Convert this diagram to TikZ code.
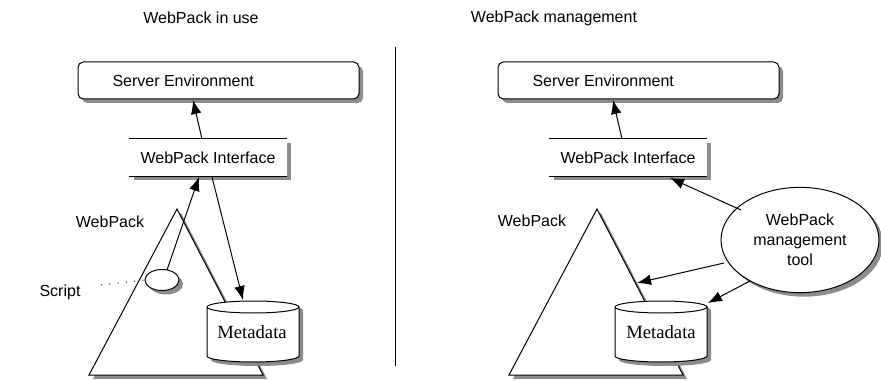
\documentclass[tikz,border=0pt]{standalone}
\usepackage{fontspec}
\setmainfont{Liberation Sans}
\newfontfamily\serifface{Liberation Serif}
\usetikzlibrary{shapes.geometric,arrows.meta,shadows}
\definecolor{shadowgray}{gray}{0.55}
\begin{document}
\begin{tikzpicture}[x=0.75pt,y=-0.75pt, line width=0.75pt,
  sans/.style={font=\fontsize{12}{15}\selectfont},
  serif/.style={font=\serifface\fontsize{14}{16}\selectfont},
  arr/.style={-{Latex[length=10.5pt,width=8pt]}},
  shd/.style={drop shadow={shadow xshift=3pt,shadow yshift=-3pt,fill=shadowgray,opacity=1}},
  srvbox/.style={draw, fill=white, rounded corners=4pt, minimum width=210.75pt, minimum height=27.75pt, inner sep=0pt, shd},
  ifbox/.style={fill=white, minimum width=117.75pt, minimum height=27.75pt, inner sep=0pt, shd, sans},
  oval/.style={ellipse, draw, fill=white, inner sep=0pt, shd}
]
\useasboundingbox (0,0) rectangle (881,381);

% titles and divider
\node[sans] (t1) at (201,18) {WebPack in use};
\node[sans] (t2) at (554,18) {WebPack management};
\coordinate (d1) at (395,47);
\coordinate (d2) at (395,366);
\draw (d1) -- (d2);

% ---------------- left panel ----------------
\node[srvbox] (srvL) at (218.5,80.5) {};
\node[sans, anchor=west, inner sep=0pt] (srvLt) at (112,81) {Server Environment};
\node[ifbox] (ifL) at (208,157.5) {WebPack Interface};
\draw (ifL.north west) -- (ifL.north east) (ifL.south west) -- (ifL.south east);

% triangle
\fill[shadowgray] (181,213) -- (267,379) -- (93,379) -- cycle;
\draw[fill=white] (177,209) -- (263,375) -- (89,375) -- cycle;
\node[sans] (wpL) at (110,222) {WebPack};

% cylinder
\fill[shadowgray] (211,310) -- (211,360) arc[start angle=180,end angle=0,x radius=46,y radius=6]
  -- (303,310) arc[start angle=0,end angle=-180,x radius=46,y radius=6] -- cycle;
\draw[fill=white] (207,307) -- (207,356) arc[start angle=180,end angle=0,x radius=46,y radius=6]
  -- (299,307) arc[start angle=0,end angle=-180,x radius=46,y radius=6] -- cycle;
\draw (207,307) arc[start angle=180,end angle=0,x radius=46,y radius=6];
\node[serif] (mdL) at (252,332) {Metadata};

% script
\node[oval, minimum width=25.5pt, minimum height=15.75pt] (scr) at (162,280) {};
\node[sans] (scrt) at (60,292) {Script};
\coordinate (dotA) at (101,285);
\draw[dash pattern=on 0.75pt off 5.5pt] (dotA) -- (scr.west);

\coordinate (aL1s) at (202,139);
\coordinate (aL1e) at (193,100);
\draw[arr] (aL1s) -- (aL1e);
\coordinate (aL2s) at (167,270);
\coordinate (aL2e) at (199,177);
\draw[arr] (aL2s) -- (aL2e);
\coordinate (aL3s) at (212,177);
\coordinate (aL3e) at (243,300);
\draw[arr] (aL3s) -- (aL3e);

% ---------------- right panel ----------------
\node[srvbox] (srvR) at (638.5,80.5) {};
\node[sans, anchor=west, inner sep=0pt] (srvRt) at (532,81) {Server Environment};
\node[ifbox] (ifR) at (628,157.5) {WebPack Interface};
\draw (ifR.north west) -- (ifR.north east) (ifR.south west) -- (ifR.south east);

\fill[shadowgray] (601,213) -- (687,379) -- (513,379) -- cycle;
\draw[fill=white] (597,209) -- (683,375) -- (509,375) -- cycle;
\node[sans] (wpR) at (532,221) {WebPack};

\fill[shadowgray] (619,310) -- (619,360) arc[start angle=180,end angle=0,x radius=46,y radius=6]
  -- (711,310) arc[start angle=0,end angle=-180,x radius=46,y radius=6] -- cycle;
\draw[fill=white] (615,307) -- (615,356) arc[start angle=180,end angle=0,x radius=46,y radius=6]
  -- (707,307) arc[start angle=0,end angle=-180,x radius=46,y radius=6] -- cycle;
\draw (615,307) arc[start angle=180,end angle=0,x radius=46,y radius=6];
\node[serif] (mdR) at (661,332) {Metadata};

\node[oval, minimum width=118.5pt, minimum height=79pt, sans, align=center] (tool) at (800,240)
  {WebPack\\management\\tool};

\coordinate (aR1s) at (741,210);
\coordinate (aR1e) at (670,178);
\draw[arr] (aR1s) -- (aR1e);
\coordinate (aR0s) at (622,139);
\coordinate (aR0e) at (613,100);
\draw[arr] (aR0s) -- (aR0e);
\coordinate (aR3s) at (724,263);
\coordinate (aR3e) at (637,283);
\draw[arr] (aR3s) -- (aR3e);
\coordinate (aR4s) at (750,281);
\coordinate (aR4e) at (708,303);
\draw[arr] (aR4s) -- (aR4e);
\end{tikzpicture}
\end{document}
